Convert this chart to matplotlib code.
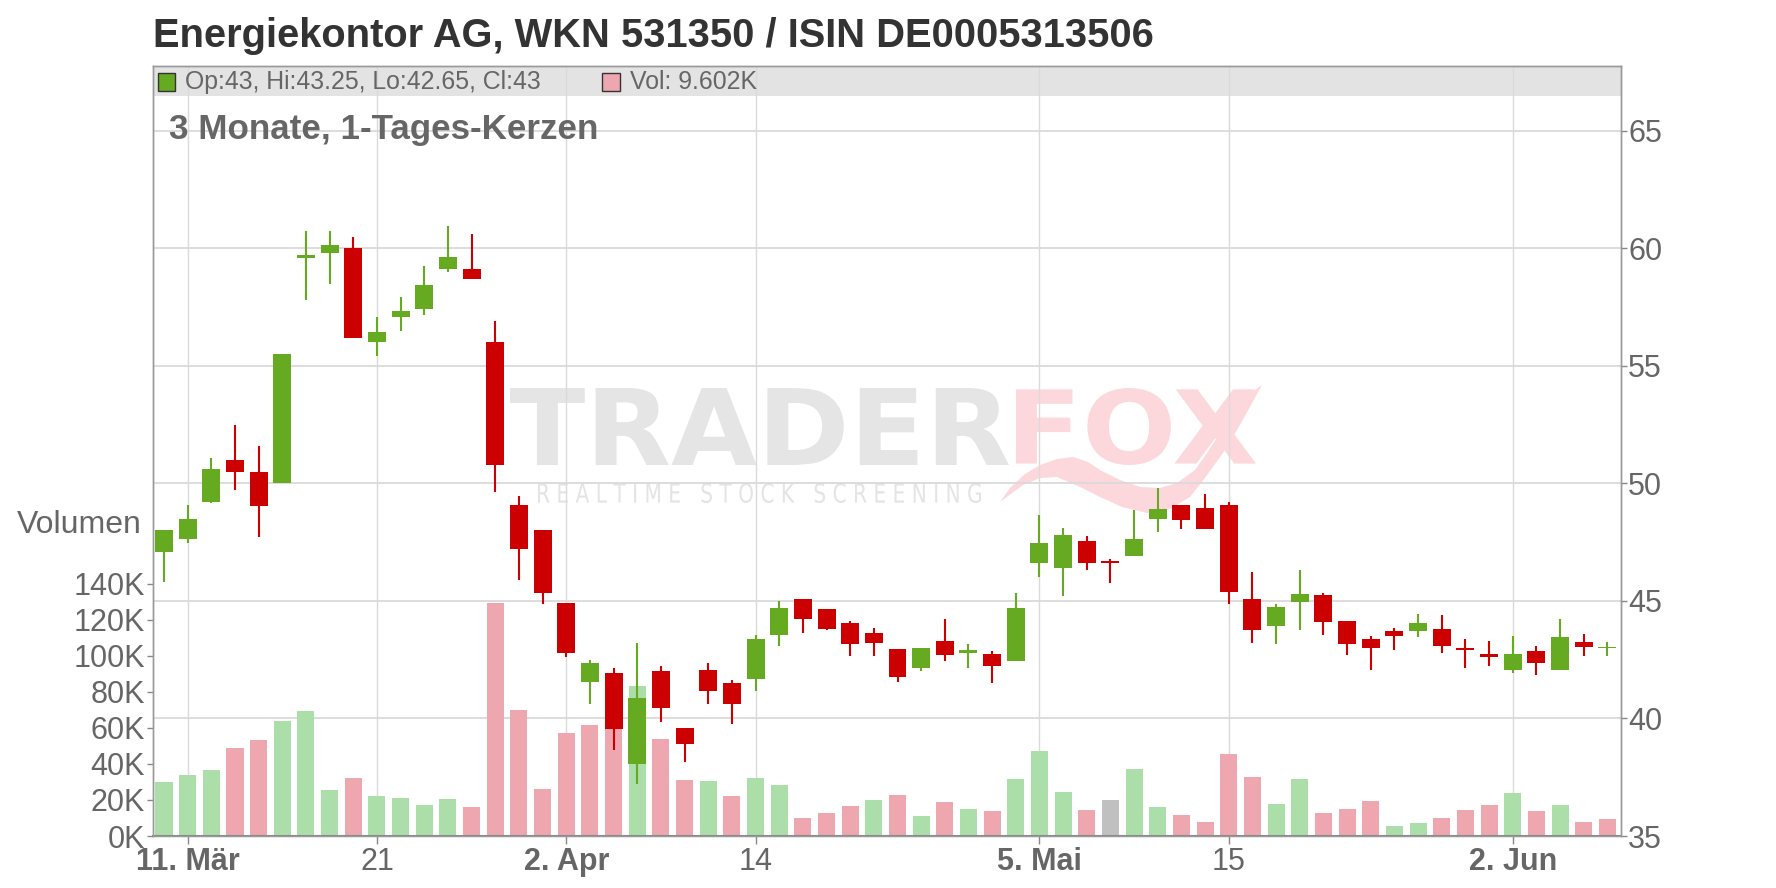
import numpy as np
import pandas as pd
import matplotlib
matplotlib.use('Agg')
import matplotlib.pyplot as plt
from matplotlib.patches import Rectangle, PathPatch, Polygon
from matplotlib.textpath import TextPath
from matplotlib.font_manager import FontProperties
from matplotlib.transforms import Affine2D, IdentityTransform, blended_transform_factory

W, H = 1776, 888

# trading days (Xetra, 10 Mar - 6 Jun 2025)
days = pd.bdate_range('2025-03-10', '2025-06-06')
days = days.drop(pd.to_datetime(['2025-04-18', '2025-04-21', '2025-05-01']))

opens = [47.1, 47.65, 49.2, 51.0, 50.5, 50.0, 59.6, 59.8, 60.0, 56.0,
         57.1, 57.4, 59.1, 59.1, 56.0, 49.1, 48.0, 44.9, 41.55, 41.95,
         38.05, 42.0, 39.6, 42.05, 41.5, 41.7, 43.55, 45.1, 44.65, 44.05,
         43.65, 42.95, 42.15, 43.3, 42.8, 42.75, 42.45, 46.6, 46.4, 47.55,
         46.7, 46.9, 48.5, 49.1, 48.95, 49.1, 45.1, 43.95, 44.95, 45.25,
         44.15, 43.4, 43.7, 43.7, 43.8, 43.0, 42.75, 42.05, 42.85, 42.05,
         43.25, 43.0]
highs = [48.0, 49.1, 51.1, 52.5, 51.6, 55.5, 60.75, 60.75, 60.5, 57.1,
         57.95, 59.25, 60.95, 60.6, 56.9, 49.45, 48.0, 44.9, 42.5, 42.15,
         43.2, 42.25, 39.6, 42.35, 41.65, 43.55, 45.0, 45.1, 44.65, 44.15,
         43.85, 42.95, 43.0, 44.25, 43.15, 42.85, 45.35, 48.65, 48.1, 47.75,
         46.8, 48.85, 49.8, 49.1, 49.55, 49.2, 46.25, 44.85, 46.3, 45.35,
         44.15, 43.5, 43.85, 44.45, 44.4, 43.4, 43.3, 43.5, 43.1, 44.25,
         43.6, 43.25]
lows = [45.8, 47.45, 49.15, 49.7, 47.7, 50.0, 57.8, 58.5, 56.2, 55.4,
        56.5, 57.15, 59.0, 58.7, 49.65, 45.9, 44.85, 42.6, 40.6, 38.65,
        37.2, 39.85, 38.15, 40.6, 39.75, 41.15, 43.1, 43.65, 43.75, 42.65,
        42.65, 41.55, 42.0, 42.45, 42.15, 41.5, 42.45, 46.0, 45.2, 46.3,
        45.75, 46.9, 47.95, 48.05, 48.05, 44.85, 43.2, 43.15, 43.75, 43.55,
        42.7, 42.05, 42.9, 43.45, 42.8, 42.15, 42.25, 41.95, 41.85, 42.05,
        42.65, 42.65]
closes = [48.0, 48.5, 50.6, 50.5, 49.05, 55.5, 59.7, 60.15, 56.2, 56.45,
          57.35, 58.45, 59.65, 58.7, 50.8, 47.2, 45.35, 42.8, 42.35, 39.55,
          40.85, 40.45, 38.9, 41.15, 40.6, 43.4, 44.7, 44.25, 43.8, 43.15,
          43.2, 41.75, 43.0, 42.7, 42.9, 42.25, 44.7, 47.45, 47.8, 46.6,
          46.6, 47.65, 48.9, 48.45, 48.05, 45.4, 43.75, 44.75, 45.3, 44.1,
          43.15, 43.0, 43.5, 44.05, 43.1, 42.9, 42.6, 42.75, 42.35, 43.45,
          43.05, 43.0]
volumes_k = [30, 33.9, 36.7, 48.9, 53.3, 63.9, 69.4, 25.6, 32.2, 22.2,
             21.1, 17.2, 20.6, 16.1, 129.4, 70, 26.1, 57.2, 61.7, 61,
             83.3, 53.9, 31, 30.5, 22.2, 32.2, 28.3, 10, 12.8, 16.7,
             20, 22.8, 11.1, 18.9, 15, 13.9, 31.7, 47.2, 24.4, 14.4,
             20, 37.2, 16.1, 11.7, 7.8, 45.6, 32.8, 17.8, 31.7, 12.8,
             15, 19.4, 5.6, 7.2, 10, 14.4, 17.2, 23.9, 13.9, 17.2,
             7.8, 9.602]

tick_dates = ['2025-03-11', '2025-03-21', '2025-04-02', '2025-04-14',
              '2025-05-05', '2025-05-15', '2025-06-02']
tick_labels = ['11. Mär', '21', '2. Apr', '14', '5. Mai', '15', '2. Jun']
tick_bold = [True, False, True, False, True, False, True]
price_ticks = [35, 40, 45, 50, 55, 60, 65]
vol_ticks_k = [0, 20, 40, 60, 80, 100, 120, 140]

GREEN, RED = '#66aa22', '#cc0000'
VGREEN, VRED, VGRAY = '#acdeaa', '#eea7af', '#c0c0c0'
GRID = '#dadada'
TXT = '#666666'
FONT = 'Liberation Sans'

plt.rcParams['font.family'] = [FONT, 'DejaVu Sans']

o = np.array(opens); h = np.array(highs); l = np.array(lows); c = np.array(closes)
v = np.array(volumes_k) * 1000
x = np.arange(len(days))
tick_pos = [days.get_loc(pd.Timestamp(d)) for d in tick_dates]

prev = np.r_[c[0] - 1, c[:-1]]
vcol = np.where(np.isclose(c, prev), VGRAY, np.where(c > prev, VGREEN, VRED))
ccol = np.where(c >= o, GREEN, RED)


def px(xp, yp):
    return xp / W, 1 - yp / H


fig = plt.figure(figsize=(W / 100, H / 100), dpi=100)
left, right, top, bottom = 152.5, 1620.6, 65.7, 836.0
rect = [left / W, 1 - bottom / H, (right - left) / W, (bottom - top) / H]
ax_vol = fig.add_axes(rect)
ax = ax_vol.twinx()

ax_vol.set_xlim(-0.486, 61.56)
ax_vol.set_ylim(0, 427.9e3)
ax.set_ylim(35, 67.77)

# header strip
ax_vol.add_patch(Rectangle((0, 1 - 30 / (bottom - top)), 1, 30 / (bottom - top),
                           transform=ax_vol.transAxes, color='#e3e3e3', lw=0, zorder=0.3))


def fit_text(s, box, color, weight='bold', zorder=0.35):
    x0, y0, x1, y1 = box
    tp = TextPath((0, 0), s, size=100, prop=FontProperties(family='DejaVu Sans', weight=weight))
    bb = tp.get_extents()
    tr = (Affine2D().translate(-bb.x0, -bb.y0)
          .scale((x1 - x0) / bb.width, (y1 - y0) / bb.height)
          .translate(x0, H - y1))
    ax_vol.add_patch(PathPatch(tr.transform_path(tp), facecolor=color, lw=0,
                               transform=IdentityTransform(), zorder=zorder))


# watermark
fit_text('TRADER', (510, 388, 1009, 465), '#e5e5e5')
fit_text('FOX', (1016, 388, 1256, 465), '#fcd8dc')
fit_text('   '.join(' '.join(w) for w in ['REALTIME', 'STOCK', 'SCREENING']),
         (538, 483, 981, 503), '#e4e4e4', weight='normal')
tail = [(1262, 385), (1240, 425), (1223, 453), (1205, 478), (1190, 497), (1170, 509),
        (1147, 513), (1122, 507), (1100, 497), (1078, 486), (1057, 477), (1040, 478),
        (1023, 485), (1000, 502), (1010, 488), (1025, 474), (1040, 465), (1057, 459),
        (1073, 457), (1088, 462), (1100, 470), (1120, 480), (1140, 487), (1160, 488),
        (1177, 483), (1195, 470), (1207, 453), (1222, 430), (1237, 403)]
ax_vol.add_patch(Polygon([(a, H - b) for a, b in tail], closed=True, facecolor='#fcd8dc',
                         lw=0, transform=IdentityTransform(), zorder=0.34))

# grid
ax_vol.set_xticks(tick_pos)
ax_vol.grid(axis='x', color=GRID, lw=1.0, zorder=0.5)
ax_vol.set_axisbelow(True)
hb = blended_transform_factory(ax_vol.transAxes, ax.transData)
ax_vol.hlines(price_ticks[1:], 0, 1, transform=hb, color=GRID, lw=1.3, zorder=0.5)

# volume
ax_vol.bar(x, v, width=0.72, color=vcol, lw=0, zorder=2)

# candles
ax.vlines(x, l, h, color=ccol, lw=1.5, zorder=2)
body = np.maximum(np.abs(c - o), 0.05)
ax.bar(x, body, bottom=np.minimum(o, c), width=0.76, color=ccol, lw=0, zorder=3)

# axes styling
ax_vol.set_yticks([t * 1000 for t in vol_ticks_k])
ax_vol.set_yticklabels([f'{t}K' for t in vol_ticks_k])
ax_vol.set_xticklabels(tick_labels)
for lab, b in zip(ax_vol.get_xticklabels(), tick_bold):
    lab.set_fontweight('bold' if b else 'normal')
ax.set_yticks(price_ticks)
ax.set_yticklabels([str(p) for p in price_ticks])

ax_vol.tick_params(axis='y', length=4, width=1, color='#888888', labelsize=22,
                   labelcolor=TXT, pad=1.5)
ax_vol.tick_params(axis='x', length=6, width=1, color='#888888', labelsize=22,
                   labelcolor=TXT, pad=2)
ax.tick_params(axis='y', length=4, width=1, color='#888888', labelsize=22,
               labelcolor=TXT, pad=1.5)

for a in (ax_vol, ax):
    for sp in a.spines.values():
        sp.set_color('#999999')
        sp.set_linewidth(1)
ax_vol.spines['bottom'].set_color('#888888')
ax_vol.spines['bottom'].set_linewidth(1.5)

# texts
fig.text(*px(153, 46.7), 'Energiekontor AG, WKN 531350 / ISIN DE0005313506',
         fontsize=28.75, fontweight='bold', color='#333333', va='baseline', ha='left')
fig.text(*px(169.3, 139.3), '3 Monate, 1-Tages-Kerzen', fontsize=25.2,
         fontweight='bold', color=TXT, va='baseline', ha='left')
fig.text(*px(17, 533), 'Volumen', fontsize=23, color=TXT, va='baseline', ha='left')

fig.add_artist(Rectangle(px(158, 90.7), 17 / W, 18 / H, transform=fig.transFigure,
                         facecolor=GREEN, edgecolor='#333333', lw=1))
fig.text(*px(185.4, 89.3), f'Op:{o[-1]:g}, Hi:{h[-1]:g}, Lo:{l[-1]:g}, Cl:{c[-1]:g}',
         fontsize=17.9, color=TXT, va='baseline', ha='left')
fig.add_artist(Rectangle(px(601.6, 90.7), 18 / W, 18 / H, transform=fig.transFigure,
                         facecolor=VRED, edgecolor='#333333', lw=1))
fig.text(*px(630, 89.3), f'Vol: {volumes_k[-1]:.3f}K', fontsize=17.9, color=TXT,
         va='baseline', ha='left')

fig.savefig('out.png', dpi=100)
plt.close(fig)
